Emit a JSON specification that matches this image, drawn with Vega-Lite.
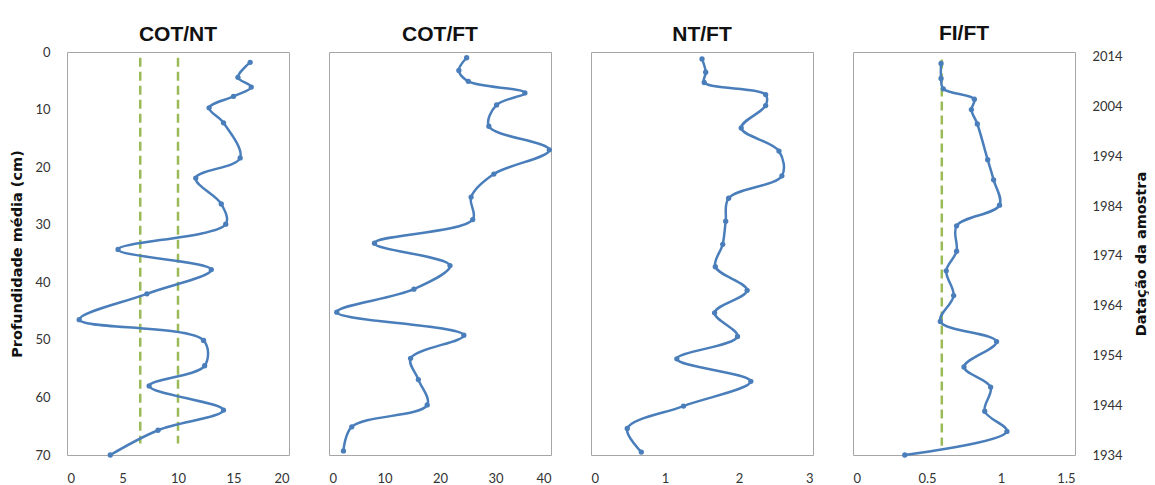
{
  "$schema": "https://vega.github.io/schema/vega-lite/v6.json",
  "padding": {"left": 9, "top": 22, "right": 0, "bottom": 0},
  "background": "white",
  "bounds": "flush",
  "spacing": 40,
  "datasets": {
    "cotnt": [
      {"depth": 1.8, "value": 16.5}, {"depth": 4.4, "value": 15.4}, {"depth": 6.1, "value": 16.6}, {"depth": 7.7, "value": 15.0},
      {"depth": 9.7, "value": 12.8}, {"depth": 12.3, "value": 14.1}, {"depth": 18.4, "value": 15.6}, {"depth": 21.9, "value": 11.6},
      {"depth": 26.4, "value": 13.9}, {"depth": 29.9, "value": 14.3}, {"depth": 34.3, "value": 4.6}, {"depth": 37.8, "value": 13.0},
      {"depth": 42.0, "value": 7.2}, {"depth": 46.5, "value": 1.1}, {"depth": 50.1, "value": 12.3}, {"depth": 54.5, "value": 12.4},
      {"depth": 58.0, "value": 7.4}, {"depth": 62.2, "value": 14.1}, {"depth": 65.7, "value": 8.2}, {"depth": 70.0, "value": 3.9}
    ],
    "cotft": [
      {"depth": 1.0, "value": 24.8}, {"depth": 3.2, "value": 23.4}, {"depth": 5.1, "value": 25.1}, {"depth": 7.1, "value": 35.3},
      {"depth": 9.2, "value": 30.2}, {"depth": 12.9, "value": 28.8}, {"depth": 17.0, "value": 39.7}, {"depth": 21.2, "value": 29.7},
      {"depth": 25.2, "value": 25.6}, {"depth": 29.1, "value": 25.9}, {"depth": 33.2, "value": 8.2}, {"depth": 37.1, "value": 21.8},
      {"depth": 41.2, "value": 15.3}, {"depth": 45.2, "value": 1.4}, {"depth": 49.2, "value": 24.3}, {"depth": 53.2, "value": 14.7},
      {"depth": 56.9, "value": 16.1}, {"depth": 61.3, "value": 17.7}, {"depth": 65.1, "value": 4.1}, {"depth": 69.3, "value": 2.6}
    ],
    "ntft": [
      {"depth": 1.2, "value": 1.50}, {"depth": 3.5, "value": 1.55}, {"depth": 5.3, "value": 1.53}, {"depth": 7.4, "value": 2.36},
      {"depth": 9.3, "value": 2.36}, {"depth": 13.2, "value": 2.03}, {"depth": 17.2, "value": 2.54}, {"depth": 21.5, "value": 2.58},
      {"depth": 25.4, "value": 1.86}, {"depth": 29.4, "value": 1.82}, {"depth": 33.4, "value": 1.78}, {"depth": 37.3, "value": 1.68},
      {"depth": 41.4, "value": 2.11}, {"depth": 45.3, "value": 1.67}, {"depth": 49.4, "value": 1.98}, {"depth": 53.3, "value": 1.16},
      {"depth": 57.2, "value": 2.16}, {"depth": 61.5, "value": 1.25}, {"depth": 65.4, "value": 0.49}, {"depth": 69.5, "value": 0.68}
    ],
    "fift": [
      {"depth": 2.0, "value": 0.595}, {"depth": 4.6, "value": 0.595}, {"depth": 6.4, "value": 0.61}, {"depth": 8.2, "value": 0.82},
      {"depth": 10.0, "value": 0.80}, {"depth": 12.5, "value": 0.84}, {"depth": 18.7, "value": 0.91}, {"depth": 22.2, "value": 0.95},
      {"depth": 26.6, "value": 0.99}, {"depth": 30.2, "value": 0.70}, {"depth": 34.6, "value": 0.70}, {"depth": 38.0, "value": 0.63},
      {"depth": 42.3, "value": 0.68}, {"depth": 46.8, "value": 0.59}, {"depth": 50.3, "value": 0.97}, {"depth": 54.7, "value": 0.75},
      {"depth": 58.2, "value": 0.93}, {"depth": 62.4, "value": 0.89}, {"depth": 65.9, "value": 1.04}, {"depth": 70.0, "value": 0.35}
    ],
    "ref1": [{"x": 6.6, "d1": 1, "d2": 68}, {"x": 10, "d1": 1, "d2": 68}],
    "ref4": [{"x": 0.6, "d1": 1.3, "d2": 68.4}],
    "years": [{"year": 1934}, {"year": 2014}]
  },
  "config": {
    "view": {"stroke": "#a6a6a6", "strokeWidth": 1},
    "axis": {"grid": false, "domain": false, "ticks": false, "labelFont": "Lato", "labelFontSize": 13, "labelColor": "#333333", "titleFont": "DejaVu Sans", "titleFontSize": 14.5, "titleFontWeight": "bold", "titleColor": "#111111"},
    "title": {"font": "Liberation Sans", "fontSize": 21, "fontWeight": "bold", "color": "#111111", "anchor": "middle"}
  },
  "hconcat": [
    {
      "width": 222, "height": 403,
      "title": {"text": "COT/NT", "offset": 1},
      "layer": [
        {
          "data": {"name": "ref1"},
          "mark": {"type": "rule", "color": "#9BBB59", "strokeWidth": 2.5, "strokeDash": [9, 5]},
          "encoding": {
            "x": {"field": "x", "type": "quantitative", "scale": {"domain": [0, 20], "nice": false}, "axis": {"values": [0, 5, 10, 15, 20], "format": "~g", "title": null, "labelPadding": 17}},
            "y": {"field": "d1", "type": "quantitative", "scale": {"domain": [0, 70], "reverse": true, "nice": false}, "axis": {"values": [0, 10, 20, 30, 40, 50, 60, 70], "title": "Profundidade média (cm)", "labelPadding": 17, "titlePadding": 10}},
            "y2": {"field": "d2"},
            "detail": {"field": "x"}
          }
        },
        {
          "data": {"name": "cotnt"},
          "mark": {"type": "line", "interpolate": "catmull-rom", "color": "#4A7EBB", "strokeWidth": 2.5},
          "encoding": {
            "x": {"field": "value", "type": "quantitative"},
            "y": {"field": "depth", "type": "quantitative"},
            "order": {"field": "depth"}
          }
        },
        {
          "data": {"name": "cotnt"},
          "mark": {"type": "circle", "color": "#4A7EBB", "opacity": 1, "size": 28},
          "encoding": {
            "x": {"field": "value", "type": "quantitative"},
            "y": {"field": "depth", "type": "quantitative"}
          }
        }
      ]
    },
    {
      "width": 222, "height": 403,
      "title": {"text": "COT/FT", "offset": 7},
      "layer": [
        {
          "data": {"name": "cotft"},
          "mark": {"type": "line", "interpolate": "catmull-rom", "color": "#4A7EBB", "strokeWidth": 2.5},
          "encoding": {
            "x": {"field": "value", "type": "quantitative", "scale": {"domain": [0, 40], "nice": false}, "axis": {"values": [0, 10, 20, 30, 40], "format": "~g", "title": null, "labelPadding": 17}},
            "y": {"field": "depth", "type": "quantitative", "scale": {"domain": [0, 70], "reverse": true, "nice": false}, "axis": null},
            "order": {"field": "depth"}
          }
        },
        {
          "data": {"name": "cotft"},
          "mark": {"type": "circle", "color": "#4A7EBB", "opacity": 1, "size": 28},
          "encoding": {
            "x": {"field": "value", "type": "quantitative"},
            "y": {"field": "depth", "type": "quantitative"}
          }
        }
      ]
    },
    {
      "width": 222, "height": 403,
      "title": {"text": "NT/FT", "offset": 7},
      "layer": [
        {
          "data": {"name": "ntft"},
          "mark": {"type": "line", "interpolate": "catmull-rom", "color": "#4A7EBB", "strokeWidth": 2.5},
          "encoding": {
            "x": {"field": "value", "type": "quantitative", "scale": {"domain": [0, 3], "nice": false}, "axis": {"values": [0, 1, 2, 3], "format": "~g", "title": null, "labelPadding": 17}},
            "y": {"field": "depth", "type": "quantitative", "scale": {"domain": [0, 70], "reverse": true, "nice": false}, "axis": null},
            "order": {"field": "depth"}
          }
        },
        {
          "data": {"name": "ntft"},
          "mark": {"type": "circle", "color": "#4A7EBB", "opacity": 1, "size": 28},
          "encoding": {
            "x": {"field": "value", "type": "quantitative"},
            "y": {"field": "depth", "type": "quantitative"}
          }
        }
      ]
    },
    {
      "width": 222, "height": 403,
      "title": {"text": "FI/FT", "offset": 7},
      "resolve": {"scale": {"y": "independent"}, "axis": {"y": "independent"}},
      "layer": [
        {
          "layer": [
            {
              "data": {"name": "ref4"},
              "mark": {"type": "rule", "color": "#9BBB59", "strokeWidth": 2.5, "strokeDash": [9, 5]},
              "encoding": {
                "x": {"field": "x", "type": "quantitative", "scale": {"domain": [0, 1.5], "nice": false}, "axis": {"values": [0, 0.5, 1, 1.5], "format": "~g", "title": null, "labelPadding": 17}},
                "y": {"field": "d1", "type": "quantitative", "scale": {"domain": [0, 70], "reverse": true, "nice": false}, "axis": null},
                "y2": {"field": "d2"}
              }
            },
            {
              "data": {"name": "fift"},
              "mark": {"type": "line", "interpolate": "catmull-rom", "color": "#4A7EBB", "strokeWidth": 2.5},
              "encoding": {
                "x": {"field": "value", "type": "quantitative"},
                "y": {"field": "depth", "type": "quantitative"},
                "order": {"field": "depth"}
              }
            },
            {
              "data": {"name": "fift"},
              "mark": {"type": "circle", "color": "#4A7EBB", "opacity": 1, "size": 28},
              "encoding": {
                "x": {"field": "value", "type": "quantitative"},
                "y": {"field": "depth", "type": "quantitative"}
              }
            }
          ]
        },
        {
          "data": {"name": "years"},
          "mark": {"type": "point", "opacity": 0},
          "encoding": {
            "x": {"value": 0},
            "y": {"field": "year", "type": "quantitative", "scale": {"domain": [1934, 2015], "nice": false}, "axis": {"orient": "right", "values": [1934, 1944, 1954, 1964, 1974, 1984, 1994, 2004, 2014], "format": "d", "title": "Datação da amostra", "titleAngle": 270, "labelPadding": 17, "titlePadding": 26}}
          }
        }
      ]
    }
  ]
}
